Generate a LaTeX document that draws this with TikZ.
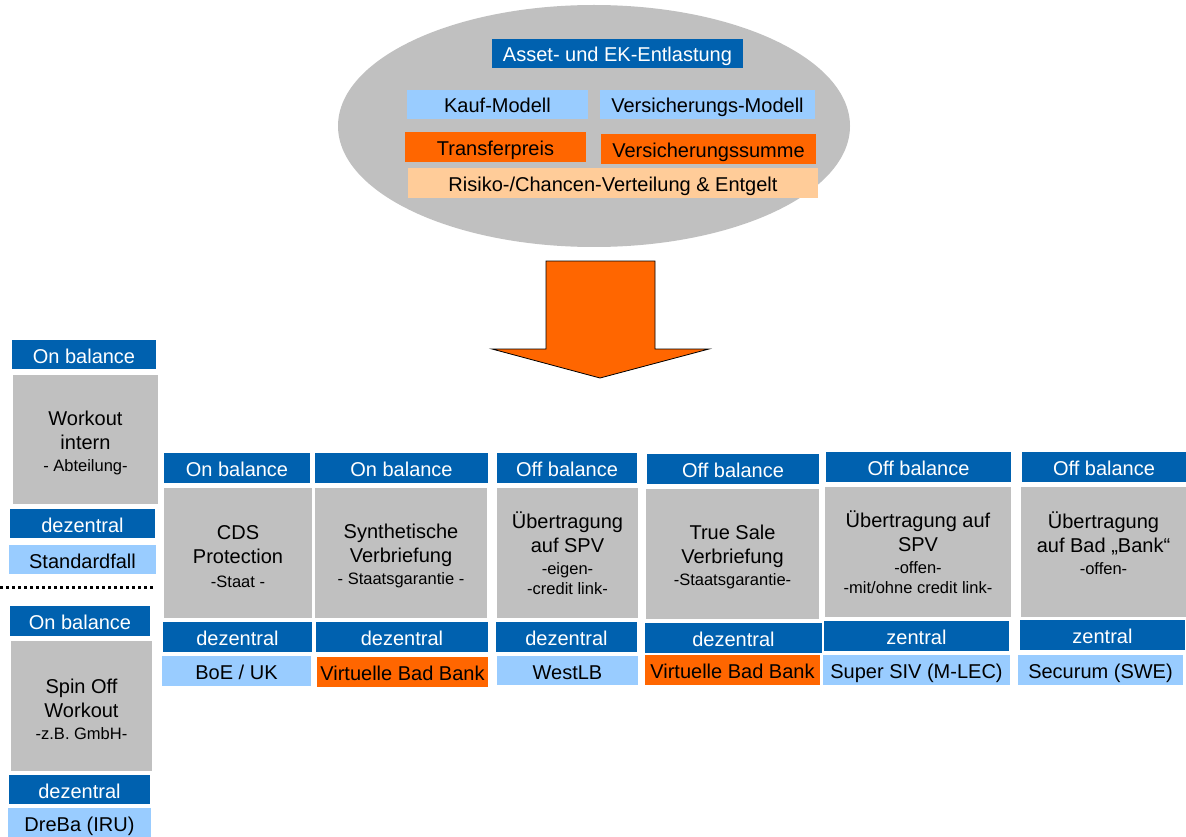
\documentclass[tikz,border=0pt]{standalone}
\usepackage{fontspec}
\setmainfont{Liberation Sans}
\usetikzlibrary{shapes.geometric}
\definecolor{darkblue}{RGB}{0,97,175}
\definecolor{lightblue}{RGB}{153,204,255}
\definecolor{hotorange}{RGB}{255,102,0}
\definecolor{boxgray}{RGB}{192,192,192}
\definecolor{peach}{RGB}{255,204,153}
\newcommand\smalltxt[1]{{\fontsize{16.5}{20}\selectfont #1}}
\newcommand\topstrut{\rule{0pt}{20.5pt}}
\begin{document}
\begin{tikzpicture}[x=1pt,y=-1pt,
    every node/.style={inner sep=0pt,font=\fontsize{20}{24}\selectfont,align=center},
    sz/.style 2 args={minimum width=#1,minimum height=#2},
    oneline/.style={text height=18pt,text depth=1pt},
    headbox/.style={oneline,fill=darkblue,text=white},
    bluebox/.style={oneline,fill=lightblue},
    orangebox/.style={oneline,fill=hotorange},
    casebox/.style={fill=boxgray},
    peachbox/.style={oneline,fill=peach}]
  \useasboundingbox (0,0) rectangle (1186,837);
  \node[ellipse,fill=boxgray,sz={512}{242}] (relief) at (594,126) {};
  \node[headbox,sz={251}{29}] (entl) at (617.5,53.5) {Asset- und EK-Entlastung};
  \node[bluebox,sz={181}{29}] (kauf) at (497.5,104.5) {Kauf-Modell};
  \node[bluebox,sz={215}{29}] (versm) at (707.5,104.5) {Versicherungs-Modell};
  \node[orangebox,sz={181}{30}] (tpreis) at (495.5,147) {Transferpreis};
  \node[orangebox,sz={215}{30}] (vsumme) at (708.5,149) {Versicherungssumme};
  \node[peachbox,sz={410}{30}] (risiko) at (613,183) {Risiko-/Chancen-Verteilung \& Entgelt};
  \filldraw[fill=hotorange,draw=black,line width=0.8pt] (546,261) -- (655,261) -- (655,349) -- (709,349)
    -- (600,378) -- (492,349) -- (546,349) -- cycle;
  % linke Spalte
  \node[headbox,sz={144}{29}] (ob0) at (84,354.5) {On balance};
  \node[casebox,sz={145}{129}] (wo0) at (85.5,439.5) {\topstrut Workout\\intern\\[-2pt]\smalltxt{- Abteilung-}};
  \node[headbox,sz={145}{29}] (dz0) at (82.5,523.5) {dezentral};
  \node[bluebox,sz={147}{29}] (bsp0) at (82.5,559.5) {Standardfall};
  \coordinate (sepl) at (0,587);
  \coordinate (sepr) at (154,587);
  \draw[line width=3pt,dash pattern=on 3pt off 3pt] (sepl) -- (sepr);
  \node[headbox,sz={140}{30}] (ob00) at (80,621) {On balance};
  \node[casebox,sz={141}{130}] (wo00) at (81.5,706) {\topstrut Spin Off\\Workout\\[-2pt]\smalltxt{-z.B. GmbH-}};
  \node[headbox,sz={141}{29}] (dz00) at (79.5,789.5) {dezentral};
  \node[bluebox,sz={143}{29}] (bsp00) at (79.5,822.5) {DreBa (IRU)};
  % Spalten
  \node[headbox,sz={146}{30}] (ob1) at (237,468) {On balance};
  \node[casebox,sz={148}{130}] (wo1) at (238,553) {\topstrut CDS\\Protection\\\smalltxt{-Staat -}};
  \node[headbox,sz={149}{30}] (dz1) at (237.5,637) {dezentral};
  \node[bluebox,sz={149}{30}] (bsp1) at (236.5,671) {BoE / UK};
  \node[headbox,sz={173}{30}] (ob2) at (401.5,468) {On balance};
  \node[casebox,sz={172}{130}] (wo2) at (401,553) {\topstrut Synthetische\\Verbriefung\\[-2pt]\smalltxt{- Staatsgarantie -}};
  \node[headbox,sz={172}{30}] (dz2) at (402,637) {dezentral};
  \node[orangebox,sz={171}{30}] (bsp2) at (402.5,672) {Virtuelle Bad Bank};
  \node[headbox,sz={140}{30}] (ob3) at (567,468) {Off balance};
  \node[casebox,sz={141}{130}] (wo3) at (567.5,553) {Übertragung\\auf SPV\\[-2pt]\smalltxt{-eigen-}\\[-4pt]\smalltxt{-credit link-}};
  \node[headbox,sz={141}{30}] (dz3) at (566.5,637) {dezentral};
  \node[bluebox,sz={141}{29}] (bsp3) at (567.5,670.5) {WestLB};
  \node[headbox,sz={172}{30}] (ob4) at (733,469) {Off balance};
  \node[casebox,sz={173}{130}] (wo4) at (732.5,554) {\topstrut True Sale\\Verbriefung\\[-2pt]\smalltxt{-Staatsgarantie-}};
  \node[headbox,sz={177}{30}] (dz4) at (733.5,638) {dezentral};
  \node[orangebox,sz={175}{30}] (bsp4) at (732.5,670) {Virtuelle Bad Bank};
  \node[headbox,sz={185}{30}] (ob5) at (918.5,467) {Off balance};
  \node[casebox,sz={186}{130}] (wo5) at (918,552) {Übertragung auf\\SPV\\[-2pt]\smalltxt{-offen-}\\[-4pt]\smalltxt{-mit/ohne credit link-}};
  \node[headbox,sz={185}{30}] (dz5) at (916.5,636) {zentral};
  \node[bluebox,sz={187}{30}] (bsp5) at (916.5,670) {Super SIV (M-LEC)};
  \node[headbox,sz={164}{30}] (ob6) at (1104,467) {Off balance};
  \node[casebox,sz={165}{130}] (wo6) at (1103.5,552) {Übertragung\\auf Bad „Bank“\\[-2pt]\smalltxt{-offen-}\\[-6pt]\mbox{}};
  \node[headbox,sz={165}{30}] (dz6) at (1102.5,635) {zentral};
  \node[bluebox,sz={165}{30}] (bsp6) at (1100.5,670) {Securum (SWE)};
\end{tikzpicture}
\end{document}
